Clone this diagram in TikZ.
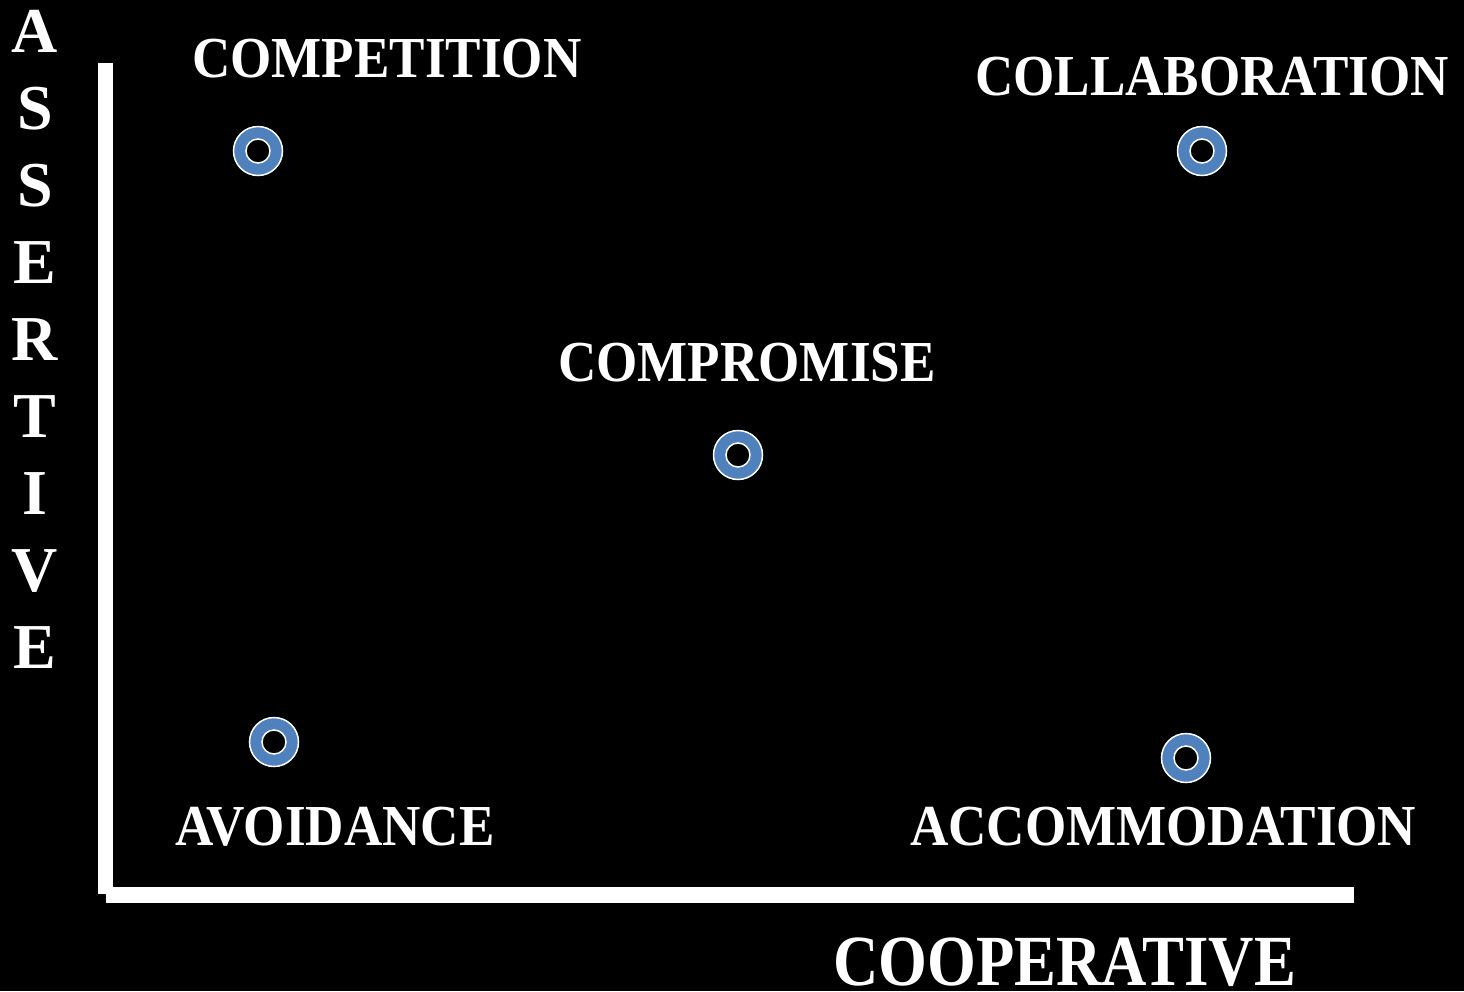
\documentclass[tikz,border=0pt]{standalone}
\usepackage{fontspec}
\setmainfont{Liberation Serif}
\usepackage{graphicx}
\definecolor{ringblue}{HTML}{4F81BD}
\tikzset{
  lbl/.style={text=white, inner sep=0pt, anchor=base west, font=\fontsize{58}{60}\selectfont\bfseries},
  axlbl/.style={text=white, inner sep=0pt, anchor=base west, font=\fontsize{72}{74}\selectfont\bfseries},
  vlet/.style={text=white, inner sep=0pt, anchor=base, font=\fontsize{64}{66}\selectfont\bfseries},
  ring/.style={circle, fill=ringblue, draw=white, line width=1.5pt, minimum size=49pt, inner sep=0pt},
  hole/.style={circle, fill=black, draw=white, line width=1.5pt, minimum size=24pt, inner sep=0pt},
  axis/.style={fill=white, draw=none}
}
\newcommand{\sq}[1]{\scalebox{0.915}[1]{#1}}
\newcommand{\sqb}[1]{\scalebox{0.872}[1]{#1}}
\begin{document}
\begin{tikzpicture}[x=1pt,y=-1pt]
\fill[black] (0,0) rectangle (1464,991);
\useasboundingbox (0,0) rectangle (1464,991);
% axes
\fill[axis] (98,63) rectangle (113,894);
\fill[axis] (106,887) rectangle (1354,903);
% markers
\foreach \n/\x/\y in {mA/258/151, mB/1202/151, mC/738/455, mD/274/742, mE/1186/758}{
  \node[ring] (\n) at (\x,\y) {};
  \node[hole] (\n h) at (\x,\y) {};
}
% labels
\node[lbl] (competition) at (192,77.7) {\sq{COMPETITION}};
\node[lbl] (collaboration) at (975,95) {\sq{COLLABORATION}};
\node[lbl] (compromise) at (558,381) {\sq{COMPROMISE}};
\node[lbl] (avoidance) at (175,845) {\sq{AVOIDANCE}};
\node[lbl] (accommodation) at (910,845) {\sq{ACCOMMODATION}};
\node[axlbl] (cooperative) at (833,985) {\sqb{COOPERATIVE}};
% vertical label
\foreach \l [count=\i] in {A,S,S,E,R,T,I,V,E}{
  \node[vlet] (v\i) at (35,{52+77*(\i-1)}) {\l};
}
\end{tikzpicture}
\end{document}
